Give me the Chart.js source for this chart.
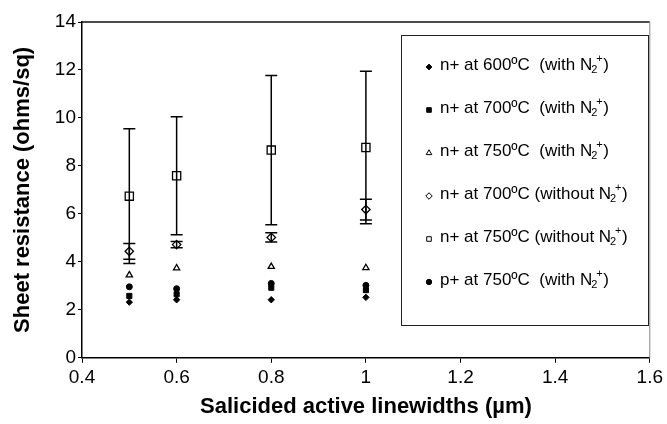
<!DOCTYPE html>
<html>
<head>
<meta charset="utf-8">
<script src="https://cdn.jsdelivr.net/npm/chart.js@4.4.1/dist/chart.umd.min.js"></script>
<style>
  html, body { margin: 0; padding: 0; background: #fff; }
</style>
</head>
<body>
<canvas id="chart" width="667" height="424"></canvas>
<script>
// linewidths along the x axis (µm)
const linewidths = [0.5, 0.6, 0.8, 1.0];

// sheet resistance (ohms/sq)
const n600With = [2.32, 2.42, 2.42, 2.52];
const n700With = [2.58, 2.65, 2.92, 2.82];
const n750With = [3.45, 3.74, 3.80, 3.75];
const n700Without = [4.44, 4.72, 5.02, 6.18];
const n700WithoutErr = [0.33, 0.13, 0.19, 0.43];
const n750Without = [6.74, 7.59, 8.66, 8.77];
const n750WithoutErr = [2.81, 2.46, 3.11, 3.18];
const p750With = [2.96, 2.88, 3.10, 3.02];

const seriesLabels = [
  'n+ at 600ºC  (with N₂⁺)',
  'n+ at 700ºC  (with N₂⁺)',
  'n+ at 750ºC  (with N₂⁺)',
  'n+ at 700ºC (without N₂⁺)',
  'n+ at 750ºC (without N₂⁺)',
  'p+ at 750ºC  (with N₂⁺)'
];

const xTicks = { min: 0.4, max: 1.6, step: 0.2 };
const yTicks = { min: 0, max: 14, step: 2 };

const FONT = "'Liberation Sans', Arial, Helvetica, sans-serif";

function points(values) {
  return linewidths.map((x, i) => ({ x, y: values[i] }));
}

function series(label, values, style, radius, filled, errors) {
  return {
    label,
    data: points(values),
    errors,
    filled,
    pointStyle: style,
    pointRadius: radius,
    pointHoverRadius: radius,
    pointBorderWidth: filled ? 1 : 1.3,
    pointBackgroundColor: filled ? '#000' : 'rgba(0,0,0,0)',
    pointBorderColor: '#000',
    showLine: false
  };
}

const datasets = [
  series(seriesLabels[0], n600With, 'rectRot', 3.2, true),
  series(seriesLabels[1], n700With, 'rect', 3.6, true),
  series(seriesLabels[2], n750With, 'triangle', 3.6, false),
  series(seriesLabels[3], n700Without, 'rectRot', 4.2, false, n700WithoutErr),
  series(seriesLabels[4], n750Without, 'rect', 5.8, false, n750WithoutErr),
  series(seriesLabels[5], p750With, 'circle', 3, true)
];

const errorBars = {
  id: 'errorBars',
  afterDatasetsDraw(chart) {
    const { ctx, scales: { x, y } } = chart;
    ctx.save();
    ctx.strokeStyle = '#000';
    ctx.lineWidth = 1.5;
    chart.data.datasets.forEach(ds => {
      if (!ds.errors) return;
      ds.data.forEach((pt, i) => {
        const e = ds.errors[i];
        const px = x.getPixelForValue(pt.x);
        const top = y.getPixelForValue(pt.y + e);
        const bot = y.getPixelForValue(pt.y - e);
        ctx.beginPath();
        ctx.moveTo(px, top);
        ctx.lineTo(px, bot);
        ctx.moveTo(px - 6, top);
        ctx.lineTo(px + 6, top);
        ctx.moveTo(px - 6, bot);
        ctx.lineTo(px + 6, bot);
        ctx.stroke();
      });
    });
    ctx.restore();
  }
};

const plotFrame = {
  id: 'plotFrame',
  afterDraw(chart) {
    const { ctx, chartArea: a } = chart;
    ctx.save();
    ctx.lineWidth = 1.5;
    ctx.strokeStyle = '#111';
    ctx.beginPath();
    ctx.moveTo(a.left, a.top);
    ctx.lineTo(a.right, a.top);
    ctx.stroke();
    ctx.lineWidth = 1;
    ctx.strokeStyle = '#888';
    ctx.beginPath();
    ctx.moveTo(a.right, a.top);
    ctx.lineTo(a.right, a.bottom);
    ctx.stroke();
    ctx.restore();
  }
};

// boxed legend inside the plot, with the N2+ sub/superscripts
const boxLegend = {
  id: 'boxLegend',
  afterDraw(chart, args, opts) {
    const { ctx } = chart;
    const box = opts.box;
    ctx.save();
    ctx.fillStyle = '#fff';
    ctx.fillRect(box.left, box.top, box.right - box.left, box.bottom - box.top);
    ctx.strokeStyle = '#222';
    ctx.lineWidth = 1;
    ctx.strokeRect(box.left + 0.5, box.top + 0.5, box.right - box.left, box.bottom - box.top);

    chart.data.datasets.forEach((ds, i) => {
      const yc = box.firstY + i * box.gap;
      ctx.fillStyle = ds.filled ? '#000' : '#fff';
      ctx.strokeStyle = '#000';
      ctx.lineWidth = 1;
      Chart.helpers.drawPoint(ctx, {
        pointStyle: ds.pointStyle,
        radius: Math.min(ds.pointRadius, 3.6) * 0.9,
        borderWidth: 1
      }, box.markerX, yc + 3);

      ctx.fillStyle = '#000';
      const [head, tail] = ds.label.split('₂⁺');
      ctx.textBaseline = 'alphabetic';
      ctx.font = `17px ${FONT}`;
      const base = yc + 6;
      let tx = box.textX;
      ctx.fillText(head, tx, base);
      tx += ctx.measureText(head).width;
      ctx.font = `11px ${FONT}`;
      ctx.fillText('2', tx - 1, base + 3);
      ctx.fillText('+', tx + 4, base - 8);
      tx += 11;
      ctx.font = `17px ${FONT}`;
      ctx.fillText(tail, tx, base);
    });
    ctx.restore();
  }
};

Chart.defaults.font.family = FONT;
Chart.defaults.color = '#000';

new Chart(document.getElementById('chart'), {
  type: 'scatter',
  data: { datasets },
  options: {
    responsive: false,
    animation: false,
    devicePixelRatio: 1,
    layout: { padding: { top: 22, right: 13, bottom: 4, left: 0 } },
    plugins: {
      legend: { display: false },
      tooltip: { enabled: false },
      boxLegend: {
        box: { left: 401, top: 35, right: 648, bottom: 325, firstY: 64, gap: 43, markerX: 429, textX: 440 }
      }
    },
    scales: {
      x: {
        type: 'linear',
        min: xTicks.min,
        max: xTicks.max,
        ticks: {
          stepSize: xTicks.step,
          font: { size: 19 },
          padding: 4,
          color: '#000',
          callback: v => String(+v.toFixed(1))
        },
        grid: { drawOnChartArea: false, drawTicks: true, tickLength: 5, color: '#000' },
        border: { color: '#000', width: 1.5 },
        title: {
          display: true,
          text: 'Salicided active linewidths (µm)',
          font: { size: 22, weight: 'bold' },
          padding: { top: 0, bottom: 0 },
          color: '#000'
        }
      },
      y: {
        min: yTicks.min,
        max: yTicks.max,
        ticks: { stepSize: yTicks.step, font: { size: 19 }, padding: 2, color: '#000' },
        grid: { drawOnChartArea: false, drawTicks: true, tickLength: 4, color: '#000' },
        border: { color: '#000', width: 1.5 },
        title: {
          display: true,
          text: 'Sheet resistance (ohms/sq)',
          font: { size: 22, weight: 'bold' },
          padding: { top: 10, bottom: 0 },
          color: '#000'
        },
        afterFit(scale) { scale.width = 82; }
      }
    }
  },
  plugins: [errorBars, plotFrame, boxLegend]
});
</script>
</body>
</html>
